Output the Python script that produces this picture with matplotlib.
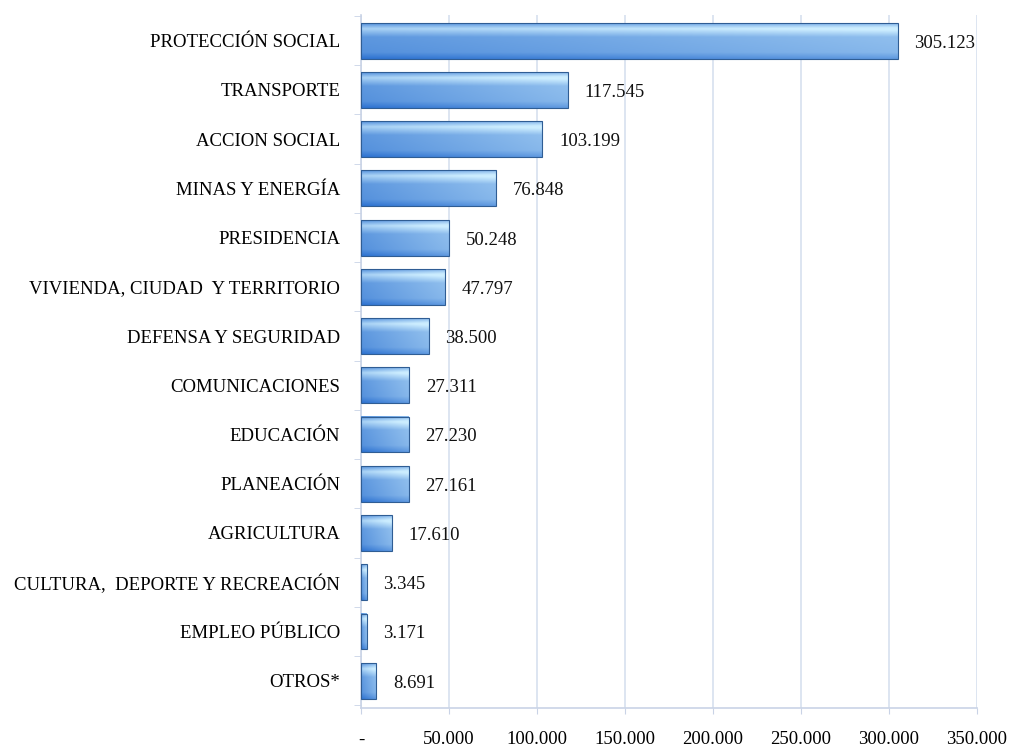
import matplotlib.pyplot as plt
import numpy as np
from matplotlib.ticker import FuncFormatter, FixedLocator

categorias = ['PROTECCIÓN SOCIAL', 'TRANSPORTE', 'ACCION SOCIAL', 'MINAS Y ENERGÍA',
              'PRESIDENCIA', 'VIVIENDA, CIUDAD  Y TERRITORIO', 'DEFENSA Y SEGURIDAD',
              'COMUNICACIONES', 'EDUCACIÓN', 'PLANEACIÓN', 'AGRICULTURA',
              'CULTURA,  DEPORTE Y RECREACIÓN', 'EMPLEO PÚBLICO', 'OTROS*']
valores = [305123, 117545, 103199, 76848, 50248, 47797, 38500,
           27311, 27230, 27161, 17610, 3345, 3171, 8691]
ticks_x = [0, 50000, 100000, 150000, 200000, 250000, 300000, 350000]

plt.rcParams['font.family'] = ['Liberation Serif', 'DejaVu Serif']

fig = plt.figure(figsize=(10.11, 7.49), dpi=100)
ax = fig.add_axes([0.357, 0.055, 0.609, 0.925])

y = np.arange(len(categorias))
bars = ax.barh(y, valores, height=0.73, color='none', edgecolor='none', zorder=3)

# gradiente tipo "bisel" para cada barra
vert = np.concatenate([np.linspace(0.25, 0.75, 8), np.linspace(0.75, 0.30, 12),
                       np.linspace(0.30, 0.25, 20), np.linspace(0.25, 0.0, 10)])
horiz = np.linspace(0.0, 0.45, 50)
mix = np.clip(vert[:, None] + horiz[None, :] * 0.7, 0, 1)
dark = np.array([0.18, 0.45, 0.82])
light = np.array([0.80, 0.93, 1.00])
img = dark[None, None, :] * (1 - mix[..., None]) + light[None, None, :] * mix[..., None]

for b in bars:
    x0, y0, w, h = b.get_x(), b.get_y(), b.get_width(), b.get_height()
    ax.imshow(img, extent=[x0, x0 + w, y0 + h, y0], aspect='auto', zorder=3, interpolation='bilinear')
    ax.add_patch(plt.Rectangle((x0, y0), w, h, fill=False, edgecolor='#2f5d94', lw=0.8, zorder=4))

for v, yy in zip(valores, y):
    ax.text(v + 9500, yy + 0.05, f'{v:,}'.replace(',', '.'), va='center', ha='left', fontsize=13.5, color='#111111')

ax.set_xlim(0, 350000)
ax.set_ylim(13.55, -0.52)
ax.set_xticks(ticks_x)
ax.xaxis.set_major_formatter(FuncFormatter(lambda v, p: '-' if v == 0 else f'{int(v):,}'.replace(',', '.')))
ax.set_yticks(y)
ax.set_yticklabels(categorias, fontsize=13.5)
ax.yaxis.set_minor_locator(FixedLocator(np.arange(-0.5, 14, 1)))
ax.tick_params(axis='y', which='major', length=0, pad=15)
ax.tick_params(axis='y', which='minor', length=5, color='#c9d3e6')
ax.tick_params(axis='x', length=4, color='#c9d3e6', labelsize=13.5, pad=13)

ax.grid(axis='x', color='#d7e0ef', lw=1.2, zorder=0)
for s in ['top', 'right']:
    ax.spines[s].set_visible(False)
for s in ['left', 'bottom']:
    ax.spines[s].set_color('#c9d3e6')
    ax.spines[s].set_linewidth(1.2)

plt.savefig('out.png', dpi=100)
